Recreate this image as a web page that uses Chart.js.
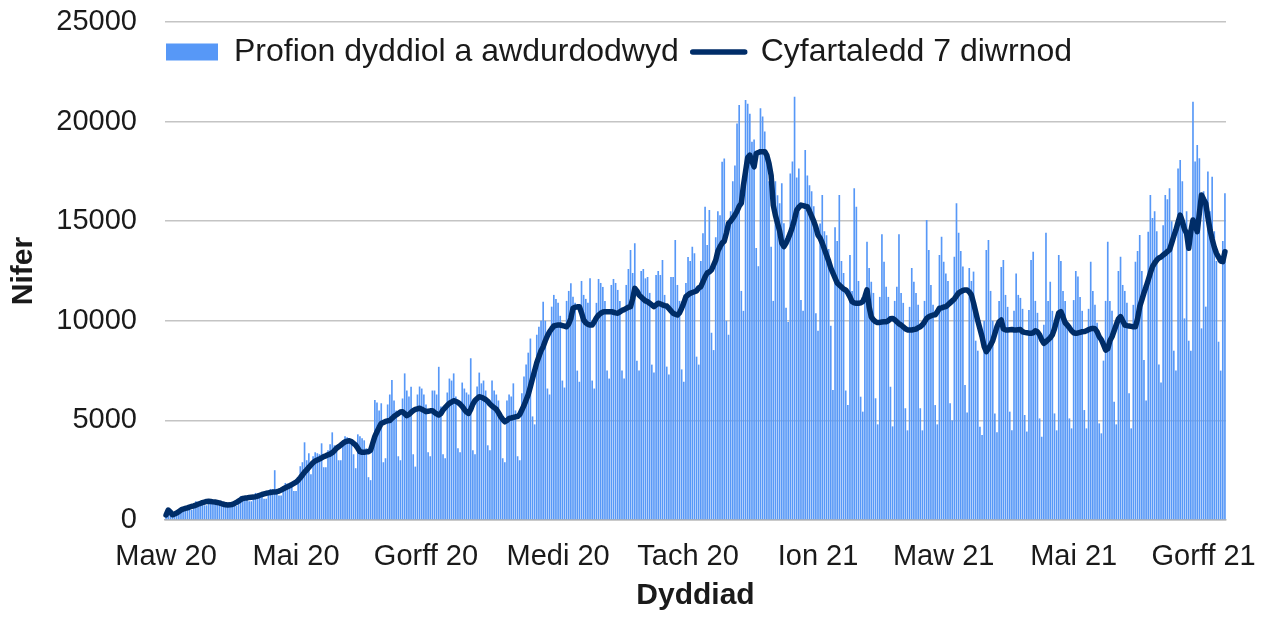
<!DOCTYPE html>
<html lang="cy">
<head>
<meta charset="utf-8">
<title>Profion dyddiol a awdurdodwyd</title>
<script src="https://cdn.jsdelivr.net/npm/chart.js@4.4.1/dist/chart.umd.min.js"></script>
<style>
  html, body { margin: 0; padding: 0; background: #fff; }
  #chart { display: block; }
</style>
</head>
<body>
<canvas id="chart" width="1263" height="617"></canvas>
<script>
// Profion dyddiol, un gwerth y dydd o 1 Maw 2020
const dailyTests = [
  280, 560, 470, 300, 260, 290, 480,
  650, 640, 630, 600, 510, 510, 800,
  940, 920, 910, 870, 740, 740, 960,
  950, 930, 920, 880, 750, 750, 900,
  830, 820, 850, 820, 700, 700, 1000,
  1200, 1180, 1170, 1110, 940, 940, 1250,
  1360, 1340, 1320, 1260, 1070, 1070, 1450,
  1560, 1540, 2500, 1450, 1230, 1230, 1700,
  1860, 1820, 1810, 1720, 1460, 1460, 2100,
  2700, 2900, 3900, 3000, 3350, 2300, 3200,
  3400, 3350, 3300, 3850, 2650, 2650, 3500,
  3800, 4400, 3750, 3600, 3000, 3000, 4000,
  4200, 4150, 4100, 3900, 3300, 2600, 4300,
  4200, 4100, 4000, 3600, 2150, 2000, 4100,
  6020, 5900, 5500, 5860, 2900, 3100, 5800,
  6300, 7030, 6000, 5500, 3200, 3000, 6100,
  7360, 6500, 6200, 6690, 3300, 2680, 6300,
  6700, 6600, 6300, 5800, 3400, 3200, 6500,
  6500, 6300, 7690, 5700, 3300, 3100, 6400,
  7100, 7000, 7360, 6200, 3600, 3400, 6900,
  6600, 6400, 6300, 8120, 3500, 3300, 6700,
  7400, 6860, 7000, 6500, 3750, 3500, 7000,
  6500, 6300, 6000, 5400, 3100, 2900, 6000,
  6300, 6200, 6860, 5500, 3200, 3000, 6360,
  7200, 7800, 8400, 9110, 5200, 4800, 9300,
  9700, 10000, 10960, 10000, 6600, 6300, 10710,
  11300, 11100, 10900, 10250, 7000, 6650, 11000,
  11500, 11880, 11210, 10900, 7500, 6940, 12000,
  11300, 11100, 10900, 12130, 7000, 6600, 10900,
  12100, 11900, 11700, 11000, 7500, 7100, 11800,
  12100, 11900, 11550, 11000, 7500, 7100, 11800,
  12600, 13560, 12400, 13890, 8000, 7500, 12500,
  12600, 12130, 12200, 11400, 7800, 7400, 12300,
  12500, 12300, 13050, 11300, 7700, 7300, 12200,
  12200, 14060, 11800, 11000, 7560, 6940, 11900,
  13200, 13000, 13720, 13390, 8200, 7800, 13000,
  14400, 15730, 13800, 15560, 9400, 8530, 14200,
  15500, 15300, 17990, 18150, 10000, 9300, 15500,
  17000, 17800, 19910, 20830, 11500, 10500, 21080,
  20900, 20400, 18990, 19100, 13650, 12740, 20670,
  20250, 19500, 18500, 17000, 13720, 11000, 17000,
  16300, 15900, 16900, 14900, 10650, 9940, 17400,
  18000, 21250, 17200, 17650, 11040, 10500, 18570,
  17300, 16800, 16500, 15750, 10380, 9500, 14890,
  16310, 14500, 14300, 13600, 9750, 6530, 14700,
  14000, 16310, 13000, 12400, 6500, 5770, 13300,
  11500, 16650, 15730, 12000, 6190, 5440, 11000,
  13970, 12650, 11960, 11400, 6110, 4800, 11200,
  14340, 12970, 11710, 11200, 6690, 4700, 11000,
  11710, 14340, 11400, 10900, 5610, 4500, 10700,
  12650, 11960, 11400, 10800, 5610, 4500, 11000,
  15060, 13560, 11800, 10800, 5770, 4800, 13300,
  14220, 12970, 12380, 12000, 5860, 5000, 13220,
  15900, 14420, 13500, 12720, 6780, 5400, 12650,
  12000, 12470, 9000, 8500, 4680, 4270, 10000,
  13560, 14060, 11500, 10000, 5350, 4400, 11000,
  12700, 13050, 11300, 10700, 5440, 4500, 10500,
  12380, 11300, 11150, 10600, 5270, 4440, 10540,
  13050, 13470, 11000, 10400, 5100, 4180, 9800,
  14420, 11000, 11960, 10500, 5350, 4500, 13300,
  13000, 11500, 11000, 10000, 5100, 4600, 11040,
  12500, 12220, 11200, 10500, 5520, 4600, 10600,
  12970, 11500, 10800, 9900, 4850, 4350, 8000,
  11000, 13970, 11000, 10500, 5940, 4800, 12500,
  13220, 11800, 11500, 10900, 6360, 4600, 10800,
  12970, 13500, 14310, 12500, 8030, 6000, 14470,
  16320, 15160, 15500, 14500, 7800, 6900, 14800,
  16320, 16100, 16650, 15000, 8500, 7500, 17650,
  18070, 17000, 10120, 15500, 9000, 8500, 21000,
  18000, 18830, 18160, 9620, 16500, 10710, 17500,
  15500, 17230, 14500, 13000, 8950, 7500, 14000,
  16400
];

// Cyfartaledd 7 diwrnod, wedi'i ddarllen oddi ar y llinell
const avg7 = [
  250, 500, 400, 260, 300, 350, 420, 500, 550, 580,
  610, 650, 680, 710, 750, 790, 830, 870, 900, 930,
  940, 930, 910, 900, 880, 860, 820, 790, 760, 750,
  760, 780, 820, 880, 950, 1020, 1080, 1100, 1110, 1130,
  1140, 1150, 1170, 1200, 1240, 1280, 1310, 1340, 1360, 1380,
  1400, 1410, 1420, 1450, 1500, 1560, 1620, 1670, 1720, 1780,
  1840, 1900, 2000, 2120, 2260, 2400, 2520, 2640, 2760, 2880,
  2960, 3010, 3060, 3120, 3180, 3220, 3270, 3310, 3380, 3480,
  3600, 3680, 3760, 3850, 3920, 3960, 3980, 3940, 3850, 3760,
  3600, 3430, 3400, 3400, 3420, 3430, 3500, 3850, 4200, 4430,
  4650, 4850, 4900, 4950, 4980, 4990, 5100, 5200, 5270, 5350,
  5420, 5440, 5340, 5240, 5300, 5400, 5490, 5550, 5580, 5610,
  5560, 5500, 5440, 5460, 5480, 5490, 5400, 5330, 5270, 5350,
  5520, 5640, 5760, 5860, 5920, 5990, 5960, 5900, 5820, 5700,
  5550, 5420, 5350, 5550, 5820, 6000, 6100, 6190, 6160, 6110,
  6050, 5960, 5820, 5720, 5640, 5560, 5400, 5200, 5050, 4930,
  5000, 5100, 5120, 5150, 5180, 5190, 5300, 5520, 5750, 6020,
  6300, 6690, 7100, 7500, 7900, 8200, 8500, 8700, 9000, 9250,
  9450, 9600, 9740, 9770, 9790, 9790, 9760, 9730, 9700, 9850,
  10120, 10630, 10680, 10700, 10710, 10400, 10040, 9900, 9820, 9790,
  9790, 9950, 10150, 10290, 10380, 10440, 10460, 10460, 10450, 10460,
  10430, 10400, 10380, 10450, 10520, 10560, 10620, 10680, 10710, 11100,
  11630, 11500, 11300, 11200, 11100, 11000, 10960, 10880, 10800, 10710,
  10800, 10880, 10850, 10800, 10760, 10740, 10620, 10500, 10380, 10330,
  10290, 10400, 10630, 10900, 11210, 11300, 11380, 11420, 11460, 11500,
  11650, 11710, 11950, 12210, 12400, 12460, 12550, 12800, 13050, 13500,
  13720, 13900, 14000, 14400, 14890, 15000, 15150, 15310, 15500, 15750,
  15900, 16800, 17500, 18200, 18320, 18000, 17730, 18400, 18450, 18490,
  18490, 18490, 18300, 17900, 17300, 15800, 15300, 14900, 14500, 13900,
  13720, 13900, 14140, 14400, 14720, 15100, 15560, 15700, 15810, 15780,
  15750, 15730, 15500, 15250, 15000, 14700, 14300, 14150, 13900, 13600,
  13300, 13000, 12650, 12400, 12150, 11900, 11800, 11700, 11600, 11550,
  11400, 11200, 10960, 10900, 10880, 10880, 10900, 10960, 11200, 11550,
  10700, 10200, 10050, 9950, 9910, 9920, 9940, 9950, 9950, 10000,
  10100, 10120, 10050, 9950, 9850, 9790, 9700, 9600, 9540, 9540,
  9540, 9560, 9580, 9650, 9700, 9800, 9950, 10120, 10200, 10250,
  10290, 10300, 10450, 10630, 10650, 10690, 10710, 10800, 10900, 11000,
  11100, 11250, 11400, 11460, 11520, 11550, 11550, 11450, 11300, 10900,
  10450, 10000, 9600, 9200, 8700, 8450, 8600, 8790, 9000, 9350,
  9700, 9950, 10040, 9600, 9540, 9540, 9550, 9560, 9540, 9540,
  9550, 9560, 9450, 9420, 9400, 9380, 9370, 9400, 9500, 9450,
  9300, 9050, 8870, 8950, 9050, 9150, 9290, 9600, 10000, 10400,
  10460, 10200, 9900, 9790, 9650, 9500, 9400, 9370, 9390, 9420,
  9450, 9460, 9500, 9560, 9600, 9620, 9600, 9450, 9200, 9050,
  8800, 8530, 8600, 9000, 9200, 9500, 9800, 10100, 10210, 10000,
  9790, 9760, 9740, 9720, 9700, 9700, 10100, 10710, 11050, 11400,
  11710, 12050, 12400, 12720, 12900, 13050, 13150, 13200, 13300, 13380,
  13480, 13560, 13900, 14250, 14560, 14950, 15310, 15000, 14600, 14390,
  13640, 14500, 15060, 14800, 14470, 15400, 16320, 16100, 15900, 15200,
  14560, 14100, 13700, 13390, 13200, 13000, 12970, 13470
];

// Labeli'r echel x: diwrnod cyntaf pob yn ail fis
const tickIndex = [0, 61, 122, 184, 245, 306, 365, 426, 487];
const tickText = ['Maw 20', 'Mai 20', 'Gorff 20', 'Medi 20', 'Tach 20', 'Ion 21', 'Maw 21', 'Mai 21', 'Gorff 21'];

const startDate = new Date(2020, 2, 1);
const dayLabels = dailyTests.map((v, i) => {
    const d = new Date(startDate);
    d.setDate(d.getDate() + i);
    return d.getFullYear() + '-' + String(d.getMonth() + 1).padStart(2, '0') + '-' + String(d.getDate()).padStart(2, '0');
});

const BAR_BLUE = '#5798f7';
const LINE_NAVY = '#002d68';

Chart.defaults.font.family = '"Liberation Sans", Arial, sans-serif';
Chart.defaults.color = '#1a1a1a';

// Mae'r allwedd yn eistedd y tu mewn i'r graff: dim lle iddi yn y gosodiad
const legendInside = {
    id: 'legendInside',
    afterInit(chart) {
        const lg = chart.legend;
        const fit = lg.fit;
        lg.fit = function () {
            fit.call(this);
            this._realHeight = this.height;
            this.height = 0;
        };
    },
    afterLayout(chart) {
        const lg = chart.legend;
        lg.height = lg._realHeight;
        lg.bottom = lg.top + lg.height;
        lg.left += 6;
        lg.right += 6;
    }
};

new Chart(document.getElementById('chart'), {
    type: 'bar',
    data: {
        labels: dayLabels,
        datasets: [
            {
                type: 'bar',
                label: 'Profion dyddiol a awdurdodwyd',
                data: dailyTests,
                backgroundColor: BAR_BLUE,
                borderWidth: 0,
                barPercentage: 0.78,
                categoryPercentage: 1,
                order: 2
            },
            {
                type: 'line',
                label: 'Cyfartaledd 7 diwrnod',
                data: avg7,
                borderColor: LINE_NAVY,
                backgroundColor: LINE_NAVY,
                borderWidth: 5.5,
                borderJoinStyle: 'round',
                borderCapStyle: 'round',
                pointRadius: 0,
                pointHoverRadius: 0,
                tension: 0,
                order: 1
            }
        ]
    },
    plugins: [legendInside],
    options: {
        responsive: false,
        animation: false,
        events: [],
        layout: { padding: { top: 22, right: 37, left: 0, bottom: 0 } },
        plugins: {
            tooltip: { enabled: false },
            legend: {
                position: 'top',
                align: 'center',
                labels: {
                    usePointStyle: true,
                    pointStyleWidth: 52,
                    boxHeight: 17,
                    padding: 14,
                    color: '#1a1a1a',
                    font: { size: 32 },
                    sort: (a, b) => a.datasetIndex - b.datasetIndex,
                    generateLabels: chart => {
                        const items = Chart.defaults.plugins.legend.labels.generateLabels(chart);
                        items.forEach(item => {
                            if (item.datasetIndex === 0) {
                                item.pointStyle = 'rect';
                                item.fillStyle = BAR_BLUE;
                                item.lineWidth = 0;
                            } else {
                                item.pointStyle = 'line';
                                item.strokeStyle = LINE_NAVY;
                                item.lineWidth = 5.5;
                                item.lineCap = 'round';
                            }
                        });
                        return items;
                    }
                }
            }
        },
        scales: {
            x: {
                grid: {
                    drawOnChartArea: false,
                    drawTicks: true,
                    tickLength: 8,
                    offset: true,
                    lineWidth: 1.5,
                    color: ctx => tickIndex.includes(ctx.index) ? '#b4b4b4' : 'rgba(0,0,0,0)'
                },
                border: { display: true, color: '#b4b4b4', width: 1.5 },
                ticks: {
                    autoSkip: false,
                    maxRotation: 0,
                    minRotation: 0,
                    padding: 12,
                    font: { size: 29 },
                    callback: (val, i) => {
                        const k = tickIndex.indexOf(i);
                        return k >= 0 ? tickText[k] : null;
                    }
                },
                title: {
                    display: true,
                    text: 'Dyddiad',
                    font: { size: 30, weight: 'bold' },
                    padding: { top: 0, bottom: 3 }
                },
                afterFit: scale => {
                    scale.height = 97;
                    scale.paddingLeft = 0;
                    scale.paddingRight = 0;
                }
            },
            y: {
                min: 0,
                max: 25000,
                ticks: {
                    stepSize: 5000,
                    padding: 0,
                    font: { size: 29 },
                    callback: v => String(v)
                },
                grid: {
                    color: '#c4c4c4',
                    lineWidth: 1.5,
                    drawTicks: true,
                    tickLength: 28,
                    tickColor: 'rgba(0,0,0,0)'
                },
                border: { display: false },
                title: {
                    display: true,
                    text: 'Nifer',
                    font: { size: 30, weight: 'bold' },
                    padding: { top: 6, bottom: 0 }
                },
                afterFit: scale => { scale.width = 165; }
            }
        }
    }
});
</script>
</body>
</html>
